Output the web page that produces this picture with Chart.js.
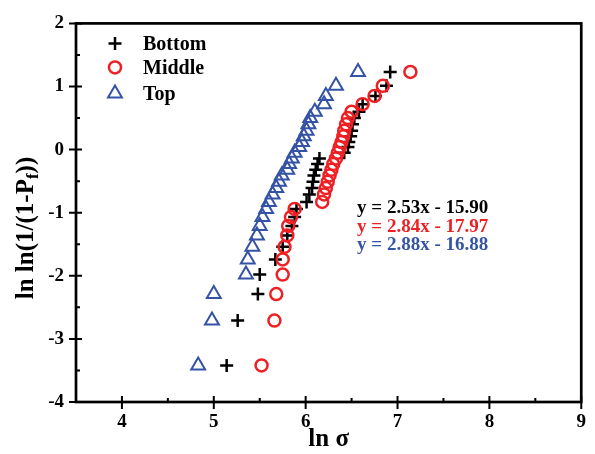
<!DOCTYPE html>
<html>
<head>
<meta charset="utf-8">
<script src="https://cdn.jsdelivr.net/npm/chart.js@4.4.1/dist/chart.umd.min.js"></script>
<style>
  html, body { margin: 0; padding: 0; background: #fff; overflow: hidden; }
  #wrap { width: 595px; height: 454px; position: relative; }
</style>
</head>
<body>
<div id="wrap"><canvas id="weibull"></canvas></div>
<script>
// ---- data ----
// y = ln ln(1/(1-Pf)) for ranks 1..30 (same for every series)
const lnlnY = [-3.42, -2.71, -2.29, -1.98, -1.74, -1.54, -1.36, -1.21, -1.07, -0.94,
               -0.83, -0.71, -0.61, -0.51, -0.41, -0.32, -0.23, -0.14, -0.05, 0.04,
               0.12, 0.21, 0.30, 0.40, 0.50, 0.60, 0.72, 0.85, 1.01, 1.23];

const bottomX = [5.14, 5.26, 5.48, 5.50, 5.67, 5.75, 5.80, 5.85, 5.88, 5.90,
                 6.01, 6.04, 6.07, 6.08, 6.09, 6.11, 6.13, 6.15, 6.42, 6.46,
                 6.47, 6.49, 6.50, 6.51, 6.53, 6.58, 6.62, 6.76, 6.88, 6.92];

const middleX = [5.52, 5.66, 5.68, 5.75, 5.75, 5.77, 5.80, 5.81, 5.84, 5.88,
                 6.18, 6.20, 6.22, 6.24, 6.26, 6.28, 6.30, 6.33, 6.35, 6.37,
                 6.39, 6.41, 6.42, 6.44, 6.46, 6.50, 6.62, 6.75, 6.84, 7.14];

const topX = [4.83, 4.98, 5.00, 5.35, 5.37, 5.42, 5.47, 5.50, 5.53, 5.57,
              5.60, 5.64, 5.68, 5.71, 5.74, 5.80, 5.82, 5.85, 5.88, 5.93,
              5.96, 5.98, 6.01, 6.03, 6.05, 6.10, 6.20, 6.22, 6.33, 6.57];

const seriesNames = ['Bottom', 'Middle', 'Top'];
const seriesColors = ['#000000', '#ee2024', '#3553a5'];
const fitTexts = ['y = 2.53x - 15.90', 'y = 2.84x - 17.97', 'y = 2.88x - 16.88'];

const xTicks = [4, 5, 6, 7, 8, 9];
const yTicks = [-4, -3, -2, -1, 0, 1, 2];

const SERIF = '"Liberation Serif", "Times New Roman", serif';

function toPoints(xs) {
    return xs.map((v, i) => ({ x: v, y: lnlnY[i] }));
}

// marker drawing for the legend (same shapes as chart.js point styles)
function drawMarker(ctx, style, cx, cy, r, color, lw) {
    ctx.save();
    ctx.strokeStyle = color;
    ctx.lineWidth = lw;
    ctx.beginPath();
    if (style === 'cross') {
        ctx.moveTo(cx - r, cy); ctx.lineTo(cx + r, cy);
        ctx.moveTo(cx, cy - r); ctx.lineTo(cx, cy + r);
    } else if (style === 'circle') {
        ctx.arc(cx, cy, r, 0, Math.PI * 2);
    } else {
        let a = 0;
        ctx.moveTo(cx + Math.sin(a) * r, cy - Math.cos(a) * r);
        a += Math.PI * 2 / 3;
        ctx.lineTo(cx + Math.sin(a) * r, cy - Math.cos(a) * r);
        a += Math.PI * 2 / 3;
        ctx.lineTo(cx + Math.sin(a) * r, cy - Math.cos(a) * r);
        ctx.closePath();
    }
    ctx.stroke();
    ctx.restore();
}

// frame, ticks, y title, legend and fit equations
const decorations = {
    id: 'decorations',
    afterDraw(chart) {
        const { ctx, chartArea: a, scales: { x, y } } = chart;
        ctx.save();

        // box
        ctx.strokeStyle = '#000';
        ctx.lineWidth = 2.7;
        ctx.strokeRect(a.left, a.top, a.right - a.left, a.bottom - a.top);

        // major ticks cross the axis, minor ticks inside
        ctx.lineWidth = 2;
        ctx.beginPath();
        xTicks.forEach(v => {
            const px = x.getPixelForValue(v);
            ctx.moveTo(px, a.bottom - 6); ctx.lineTo(px, a.bottom + 7);
            const mx = x.getPixelForValue(v - 0.5);
            ctx.moveTo(mx, a.bottom - 4); ctx.lineTo(mx, a.bottom);
        });
        yTicks.forEach(v => {
            const py = y.getPixelForValue(v);
            ctx.moveTo(a.left - 7, py); ctx.lineTo(a.left + 6, py);
            if (v < 2) {
                const my = y.getPixelForValue(v + 0.5);
                ctx.moveTo(a.left, my); ctx.lineTo(a.left + 4, my);
            }
        });
        ctx.stroke();

        // y title with subscript f
        ctx.fillStyle = '#000';
        ctx.translate(27, 228);
        ctx.rotate(-Math.PI / 2);
        ctx.textBaseline = 'middle';
        const parts = [
            { t: 'ln ln(1/(1-P', f: 'bold 25px ' + SERIF, dy: 0 },
            { t: 'f', f: 'bold 17px ' + SERIF, dy: 7 },
            { t: '))', f: 'bold 25px ' + SERIF, dy: 0 }
        ];
        let total = 0;
        parts.forEach(p => { ctx.font = p.f; p.w = ctx.measureText(p.t).width; total += p.w; });
        let cx = -total / 2;
        parts.forEach(p => { ctx.font = p.f; ctx.fillText(p.t, cx, p.dy); cx += p.w; });
        ctx.setTransform(1, 0, 0, 1, 0, 0);

        // legend
        const styles = chart.data.datasets.map(d => d.pointStyle);
        const rowY = [a.top + 20, a.top + 44, a.top + 70];
        ctx.font = 'bold 20px ' + SERIF;
        ctx.textBaseline = 'middle';
        ctx.textAlign = 'left';
        seriesNames.forEach((name, i) => {
            const r = styles[i] === 'triangle' ? 8 : (styles[i] === 'circle' ? 6 : 6.5);
            drawMarker(ctx, styles[i], a.left + 39, rowY[i], r, seriesColors[i], styles[i] === 'triangle' ? 2 : 2.5);
            ctx.fillStyle = '#000';
            ctx.fillText(name, a.left + 67, rowY[i] + 1);
        });

        // fit equations
        ctx.font = 'bold 19px ' + SERIF;
        const eqX = x.getPixelForValue(6.56);
        const eqY = [-0.93, -1.23, -1.52];
        fitTexts.forEach((t, i) => {
            ctx.fillStyle = seriesColors[i];
            ctx.fillText(t, eqX, y.getPixelForValue(eqY[i]));
        });

        ctx.restore();
    }
};

new Chart(document.getElementById('weibull'), {
    type: 'scatter',
    data: {
        datasets: [{
            label: seriesNames[0],
            data: toPoints(bottomX),
            pointStyle: 'cross',
            pointRadius: 6.5,
            borderColor: seriesColors[0],
            borderWidth: 2.5,
            order: 2
        }, {
            label: seriesNames[1],
            data: toPoints(middleX),
            pointStyle: 'circle',
            pointRadius: 6,
            borderColor: seriesColors[1],
            backgroundColor: 'rgba(0,0,0,0)',
            borderWidth: 2.5,
            order: 1
        }, {
            label: seriesNames[2],
            data: toPoints(topX),
            pointStyle: 'triangle',
            pointRadius: 8,
            borderColor: seriesColors[2],
            backgroundColor: 'rgba(0,0,0,0)',
            borderWidth: 2,
            order: 3
        }]
    },
    options: {
        responsive: true,
        maintainAspectRatio: false,
        animation: false,
        layout: { padding: { top: 19, right: 12, left: 0, bottom: 0 } },
        plugins: {
            legend: { display: false },
            tooltip: { enabled: false }
        },
        scales: {
            x: {
                type: 'linear',
                min: 3.5,
                max: 9,
                afterBuildTicks: s => { s.ticks = xTicks.map(v => ({ value: v })); },
                afterFit: s => { s.height = 52; },
                grid: { display: false, drawTicks: false },
                border: { display: false },
                ticks: {
                    autoSkip: false,
                    maxRotation: 0,
                    padding: 9,
                    color: '#000',
                    font: { family: SERIF, size: 19, weight: 'bold' }
                },
                title: {
                    display: true,
                    text: 'ln σ',
                    color: '#000',
                    padding: { top: 0, bottom: -1 },
                    font: { family: SERIF, size: 25, weight: 'bold' }
                }
            },
            y: {
                type: 'linear',
                min: -4,
                max: 2,
                afterBuildTicks: s => { s.ticks = yTicks.map(v => ({ value: v })); },
                afterFit: s => { s.width = 76; },
                grid: { display: false, drawTicks: false },
                border: { display: false },
                ticks: {
                    autoSkip: false,
                    padding: 12,
                    color: '#000',
                    font: { family: SERIF, size: 19, weight: 'bold' }
                }
            }
        }
    },
    plugins: [decorations]
});
</script>
</body>
</html>
